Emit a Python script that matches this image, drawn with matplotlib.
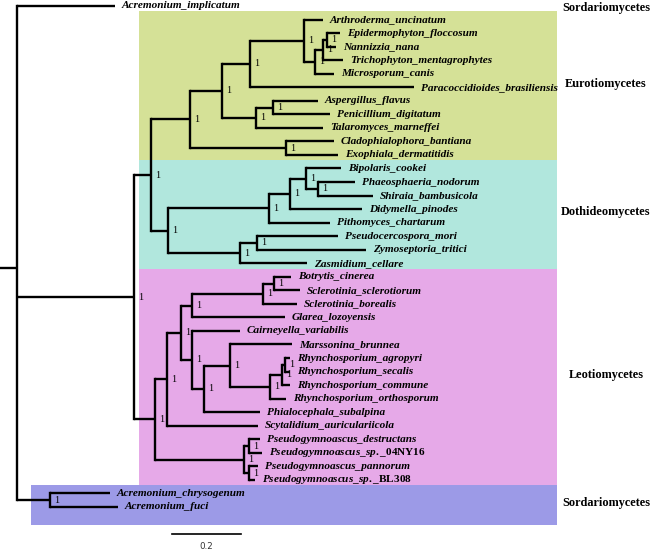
import matplotlib
matplotlib.use("Agg")
import matplotlib.pyplot as plt
from matplotlib.patches import Rectangle

plt.rcParams["font.family"] = ["Liberation Serif", "DejaVu Serif"]
plt.rcParams["mathtext.fontset"] = "custom"
plt.rcParams["mathtext.it"] = "Liberation Serif:italic:bold"
plt.rcParams["mathtext.rm"] = "Liberation Serif:bold"

# tips, top to bottom, and their depth (substitutions/site from the root)
LEAVES = [
    "Acremonium_implicatum",
    "Arthroderma_uncinatum", "Epidermophyton_floccosum", "Nannizzia_nana",
    "Trichophyton_mentagrophytes", "Microsporum_canis",
    "Paracoccidioides_brasiliensis", "Aspergillus_flavus",
    "Penicillium_digitatum", "Talaromyces_marneffei",
    "Cladophialophora_bantiana", "Exophiala_dermatitidis",
    "Bipolaris_cookei", "Phaeosphaeria_nodorum", "Shiraia_bambusicola",
    "Didymella_pinodes", "Pithomyces_chartarum", "Pseudocercospora_mori",
    "Zymoseptoria_tritici", "Zasmidium_cellare",
    "Botrytis_cinerea", "Sclerotinia_sclerotiorum", "Sclerotinia_borealis",
    "Glarea_lozoyensis", "Cairneyella_variabilis", "Marssonina_brunnea",
    "Rhynchosporium_agropyri", "Rhynchosporium_secalis",
    "Rhynchosporium_commune", "Rhynchosporium_orthosporum",
    "Phialocephala_subalpina", "Scytalidium_auriculariicola",
    "Pseudogymnoascus_destructans", "Pseudogymnoascus_sp._04NY16",
    "Pseudogymnoascus_pannorum", "Pseudogymnoascus_sp._BL308",
    "Acremonium_chrysogenum", "Acremonium_fuci",
]
TIP_DEPTH = [
    0.284,
    0.887, 0.936, 0.925, 0.945, 0.919, 1.151, 0.872, 0.907, 0.887, 0.919, 0.930,
    0.939, 0.980, 1.032, 1.000, 0.907, 0.930, 1.012, 0.841,
    0.794, 0.820, 0.812, 0.777, 0.646, 0.797, 0.791, 0.791, 0.791, 0.780,
    0.704, 0.699, 0.704, 0.710, 0.699, 0.690,
    0.270, 0.293,
]
STRAIN_CODES = ["04NY16", "BL308"]

# internal nodes: children are tip indices (int) or node ids (str)
NODE_IDS = [
    "root", "ACR", "BIG", "EUDO", "EURO", "ONEU", "ONPA", "ONYG", "DERM", "DER2",
    "DER3", "EURT", "ASPE", "CHAE", "DOTH", "PLEO", "PLE2", "PLE3", "PHSH",
    "CAPN", "PSZY", "LEO", "LEO2", "LEO3", "SCGL", "SCLE", "BOSC", "LEO4",
    "LEO5", "MARH", "RHYN", "RHY2", "RHY3", "PSEU", "PS1", "PS2",
]
NODE_DEPTH = [
    0.0, 0.096, 0.339, 0.388, 0.501, 0.594, 0.675, 0.832, 0.864, 0.887,
    0.899, 0.693, 0.742, 0.780, 0.438, 0.730, 0.791, 0.838, 0.872,
    0.646, 0.696, 0.400, 0.435, 0.475, 0.507, 0.713, 0.745, 0.507,
    0.542, 0.617, 0.733, 0.768, 0.777, 0.658, 0.672, 0.672,
]
NODE_CHILDREN = [
    [0, "BIG", "ACR"], [36, 37], ["EUDO", "LEO"], ["EURO", "DOTH"],
    ["ONEU", "CHAE"], ["ONPA", "EURT"], ["ONYG", 6], [1, "DERM"],
    ["DER2", 5], ["DER3", 4], [2, 3], ["ASPE", 9], [7, 8], [10, 11],
    ["PLEO", "CAPN"], ["PLE2", 16], ["PLE3", 15], [12, "PHSH"], [13, 14],
    ["PSZY", 19], [17, 18], ["LEO2", "PSEU"], ["LEO3", 31], ["SCGL", "LEO4"],
    ["SCLE", 23], ["BOSC", 22], [20, 21], [24, "LEO5"], ["MARH", 30],
    [25, "RHYN"], ["RHY2", 29], ["RHY3", 28], [26, 27], ["PS1", "PS2"],
    [32, 33], [34, 35],
]
NODE_SUPPORT = [""] + ["1"] * (len(NODE_IDS) - 1)
ROOT_EDGE = 0.049

# classes shown as shaded blocks on the right
CLADE_NAMES = ["Sordariomycetes", "Eurotiomycetes", "Dothideomycetes",
               "Leotiomycetes", "Sordariomycetes"]
CLADE_FIRST = [0, 1, 12, 20, 36]
CLADE_LAST = [0, 11, 19, 35, 37]
CLADE_COLORS = [None, "#d5e197", "#b1e7dd", "#e6a9e8", "#9c9ae7"]

SCALE_LENGTH = 0.2


def layout():
    depth = {nid: d for nid, d in zip(NODE_IDS, NODE_DEPTH)}
    children = {nid: c for nid, c in zip(NODE_IDS, NODE_CHILDREN)}
    ypos = {}

    def node_y(key):
        if isinstance(key, int):
            return float(key)
        if key not in ypos:
            ys = [node_y(c) for c in children[key]]
            ypos[key] = sum(ys) / len(ys)
        return ypos[key]

    node_y("root")
    return depth, children, ypos


def tip_label(name):
    for code in STRAIN_CODES:
        if name.endswith(code):
            head = name[: -len(code)].replace("_", r"\_")
            return r"$\mathit{" + head + "}$" + code, "normal"
    return name, "italic"


def main():
    depth, children, ypos = layout()

    fig = plt.figure(figsize=(6.55, 5.5), dpi=100)
    ax = fig.add_axes([0, 0, 1, 1])
    ax.set_xlim(-0.0493, 1.849)
    ax.set_ylim(40.18, -0.443)
    ax.axis("off")

    # coloured class blocks, class name centred on each block
    last = len(CLADE_COLORS) - 1
    for i, color in enumerate(CLADE_COLORS):
        if color is None:
            ax.text(1.707, CLADE_FIRST[i] + 0.15, CLADE_NAMES[i], ha="center",
                    va="center", fontsize=8.8, fontweight="bold")
            continue
        top = CLADE_FIRST[i] - 0.6
        bottom = CLADE_LAST[i] + (1.33 if i == last else 0.4)
        left = 0.041 if i == last else 0.354
        ax.add_patch(Rectangle((left, top), 1.565 - left, bottom - top,
                               facecolor=color, edgecolor="none", zorder=0))
        ax.text(1.707, (top + bottom) / 2 - 0.15, CLADE_NAMES[i], ha="center",
                va="center", fontsize=8.8, fontweight="bold")

    lw = 1.7
    # root stub
    ax.plot([-ROOT_EDGE, 0.0], [ypos["root"]] * 2, color="black", lw=lw,
            solid_capstyle="butt")

    def pos(key):
        if isinstance(key, int):
            return TIP_DEPTH[key], float(key)
        return depth[key], ypos[key]

    for nid, sup in zip(NODE_IDS, NODE_SUPPORT):
        x0, y0 = depth[nid], ypos[nid]
        kids = [pos(c) for c in children[nid]]
        ys = [k[1] for k in kids]
        ax.plot([x0, x0], [min(ys), max(ys)], color="black", lw=lw,
                solid_capstyle="projecting")
        for kx, ky in kids:
            ax.plot([x0, kx], [ky, ky], color="black", lw=lw,
                    solid_capstyle="butt")
        if sup:
            ax.text(x0 + 0.012, y0, sup, ha="left", va="center", fontsize=7.3)

    for i, name in enumerate(LEAVES):
        text, style = tip_label(name)
        ax.text(TIP_DEPTH[i] + 0.02, i, text, ha="left", va="center",
                fontsize=8.1, fontstyle=style, fontweight="bold")

    # scale bar
    sx, sy = 0.449, 39.0
    ax.plot([sx, sx + SCALE_LENGTH], [sy, sy], color="black", lw=1.2)
    ax.text(sx + SCALE_LENGTH / 2, sy + 0.95, f"{SCALE_LENGTH:g}", ha="center",
            va="center", fontsize=6.3, family="DejaVu Sans", color="#333333")

    fig.savefig("out.png", dpi=100)
    plt.close(fig)


if __name__ == "__main__":
    main()
